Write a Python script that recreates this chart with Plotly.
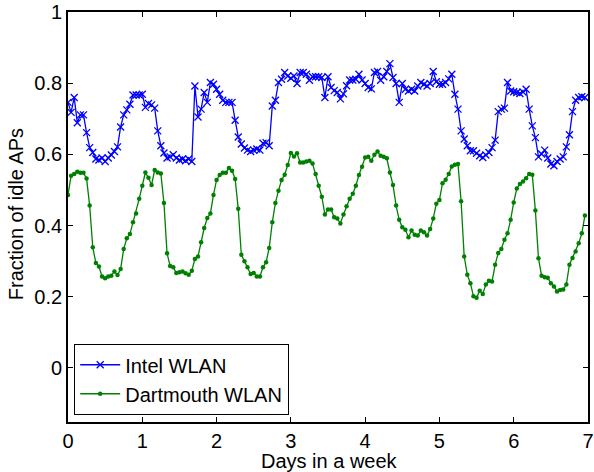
import numpy as np
import plotly.graph_objects as go

intel = [0.746, 0.718, 0.760, 0.689, 0.711, 0.711, 0.661, 0.619, 0.605, 0.587,
         0.584, 0.590, 0.580, 0.590, 0.598, 0.608, 0.621, 0.677, 0.711, 0.725,
         0.741, 0.767, 0.767, 0.767, 0.769, 0.732, 0.743, 0.739, 0.730, 0.666,
         0.624, 0.604, 0.590, 0.593, 0.599, 0.590, 0.584, 0.587, 0.582, 0.587,
         0.580, 0.792, 0.705, 0.727, 0.774, 0.746, 0.802, 0.797, 0.783, 0.769,
         0.752, 0.746, 0.746, 0.746, 0.696, 0.649, 0.629, 0.618, 0.612, 0.608,
         0.612, 0.615, 0.612, 0.631, 0.633, 0.624, 0.736, 0.752, 0.802, 0.811,
         0.830, 0.820, 0.814, 0.820, 0.799, 0.830, 0.830, 0.825, 0.808, 0.818,
         0.818, 0.818, 0.816, 0.760, 0.818, 0.788, 0.779, 0.774, 0.756, 0.770,
         0.793, 0.809, 0.809, 0.811, 0.825, 0.809, 0.799, 0.788, 0.784, 0.830,
         0.833, 0.808, 0.818, 0.833, 0.855, 0.816, 0.799, 0.746, 0.799, 0.783,
         0.778, 0.783, 0.778, 0.792, 0.802, 0.797, 0.792, 0.799, 0.833, 0.804,
         0.797, 0.797, 0.802, 0.812, 0.825, 0.769, 0.727, 0.666, 0.643, 0.624,
         0.610, 0.610, 0.603, 0.596, 0.591, 0.598, 0.605, 0.619, 0.640, 0.720,
         0.727, 0.730, 0.802, 0.778, 0.776, 0.774, 0.771, 0.775, 0.783, 0.727,
         0.680, 0.647, 0.593, 0.601, 0.612, 0.590, 0.573, 0.568, 0.580, 0.587,
         0.593, 0.621, 0.655, 0.720, 0.752, 0.760, 0.762, 0.760]

dartmouth = [0.486, 0.540, 0.545, 0.551, 0.548, 0.548, 0.532, 0.456, 0.339, 0.295,
             0.285, 0.257, 0.252, 0.257, 0.259, 0.271, 0.261, 0.278, 0.334, 0.364,
             0.376, 0.409, 0.434, 0.475, 0.512, 0.549, 0.534, 0.514, 0.556, 0.549,
             0.546, 0.463, 0.322, 0.286, 0.283, 0.267, 0.269, 0.271, 0.266, 0.262,
             0.273, 0.306, 0.313, 0.353, 0.393, 0.421, 0.434, 0.486, 0.528, 0.542,
             0.548, 0.548, 0.562, 0.554, 0.531, 0.447, 0.318, 0.300, 0.283, 0.264,
             0.267, 0.257, 0.257, 0.283, 0.297, 0.337, 0.409, 0.463, 0.498, 0.528,
             0.543, 0.570, 0.604, 0.594, 0.603, 0.577, 0.577, 0.580, 0.582, 0.574,
             0.545, 0.512, 0.481, 0.431, 0.445, 0.445, 0.423, 0.420, 0.406, 0.431,
             0.454, 0.475, 0.489, 0.512, 0.542, 0.565, 0.591, 0.593, 0.582, 0.599,
             0.608, 0.596, 0.593, 0.589, 0.549, 0.514, 0.456, 0.416, 0.395, 0.388,
             0.367, 0.386, 0.374, 0.372, 0.386, 0.381, 0.372, 0.390, 0.420, 0.461,
             0.472, 0.519, 0.529, 0.545, 0.566, 0.571, 0.573, 0.468, 0.313, 0.262,
             0.238, 0.201, 0.197, 0.217, 0.208, 0.234, 0.245, 0.243, 0.290, 0.323,
             0.334, 0.360, 0.378, 0.416, 0.465, 0.504, 0.517, 0.524, 0.533, 0.545,
             0.543, 0.442, 0.308, 0.259, 0.255, 0.253, 0.238, 0.229, 0.215, 0.219,
             0.220, 0.234, 0.290, 0.309, 0.327, 0.350, 0.378, 0.428]

hours_per_day = 24
days_intel = np.arange(len(intel)) / hours_per_day
days_dart = np.arange(len(dartmouth)) / hours_per_day

x_ticks = [0, 1, 2, 3, 4, 5, 6, 7]
y_ticks = [0, 0.2, 0.4, 0.6, 0.8, 1]
y_tick_labels = ["0", "0.2", "0.4", "0.6", "0.8", "1"]

FONT = "Liberation Sans, Arial, Helvetica, sans-serif"
FS = 20

fig = go.Figure()
fig.add_trace(go.Scatter(
    x=days_intel, y=intel, mode="lines+markers", name="Intel WLAN",
    line=dict(color="#0000ff", width=1.3),
    marker=dict(symbol="x-thin", size=7, line=dict(color="#0000ff", width=1.3)),
))
fig.add_trace(go.Scatter(
    x=days_dart, y=dartmouth, mode="lines+markers", name="Dartmouth WLAN",
    line=dict(color="#008000", width=1.3),
    marker=dict(symbol="circle", size=4.5, color="#008000"),
))

axis_common = dict(
    showline=True, linecolor="black", linewidth=1.8, mirror="allticks",
    ticks="inside", ticklen=5, tickwidth=1, tickcolor="black",
    showgrid=False, zeroline=False, automargin=False,
    ticklabeloverflow="allow",
    tickfont=dict(family=FONT, size=FS, color="black"),
)

W, H = 594, 472
L, R, T, B = 68, 5.5, 12, 50
PW = W - L - R

fig.update_layout(
    width=W, height=H,
    margin=dict(l=L, r=R, t=T, b=B, autoexpand=False),
    paper_bgcolor="white", plot_bgcolor="white",
    font=dict(family=FONT, size=FS, color="black"),
    xaxis=dict(range=[0, 7], tickvals=x_ticks, ticktext=[str(t) for t in x_ticks],
               ticklabelstandoff=0, **axis_common),
    yaxis=dict(range=[-0.152, 1], tickvals=y_ticks, ticktext=y_tick_labels,
               ticklabelstandoff=0, **axis_common),
    legend=dict(x=6 / PW, y=0.017, xanchor="left", yanchor="bottom",
                bgcolor="white", bordercolor="black", borderwidth=1.2,
                font=dict(family=FONT, size=FS), itemwidth=40,
                tracegroupgap=0),
    showlegend=True,
    annotations=[
        dict(text="Days in a week", xref="paper", yref="paper",
             x=0.503, y=-0.095, xanchor="center", yanchor="middle",
             showarrow=False, font=dict(family=FONT, size=FS)),
        dict(text="Fraction of idle APs", xref="paper", yref="paper",
             x=(16 - L) / PW, y=0.507, xanchor="center", yanchor="middle",
             textangle=-90, showarrow=False, font=dict(family=FONT, size=FS)),
    ],
)

fig.write_html("out.html",
               config={"displayModeBar": False},
               post_script="document.body.style.margin='0px';document.body.style.overflow='hidden';")
